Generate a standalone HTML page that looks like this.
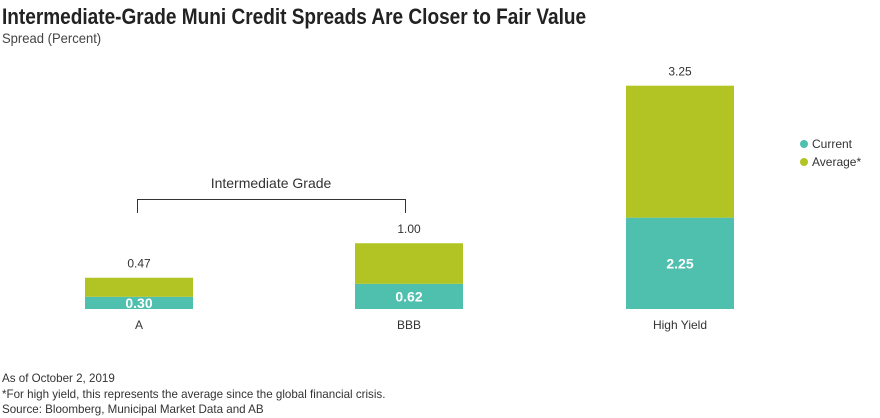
<!DOCTYPE html>
<html><head><meta charset="utf-8"><style>
body{margin:0;background:#fff;font-family:"Liberation Sans",sans-serif;}
#wrap{position:relative;width:880px;height:418px;overflow:hidden;}
.t{position:absolute;white-space:nowrap;color:#333;}
</style></head><body>
<div id="wrap">
<div class="t" style="left:2px;top:4px;font-weight:bold;font-size:22px;color:#222;transform:scaleX(0.865);transform-origin:0 0;">Intermediate-Grade Muni Credit Spreads Are Closer to Fair Value</div>
<div class="t" style="left:2px;top:30px;font-size:14px;color:#444;transform:scaleX(0.93);transform-origin:0 0;">Spread (Percent)</div>
<svg id="svg" width="880" height="418" style="position:absolute;left:0;top:0"></svg>
<div class="t" style="left:2px;top:372px;font-size:11.6px;">As of October 2, 2019</div>
<div class="t" style="left:2px;top:388px;font-size:11.6px;">*For high yield, this represents the average since the global financial crisis.</div>
<div class="t" style="left:2px;top:403px;font-size:11.6px;">Source: Bloomberg, Municipal Market Data and AB</div>
</div>
<script>
const categories=["A","BBB","High Yield"];
const currentVals=[0.30,0.62,2.25];
const averageVals=[0.47,1.00,3.25];
const svg=document.getElementById('svg');
const NS='http://www.w3.org/2000/svg';
const base=309, pxPer=40.6;
const y=v=>base-v*pxPer;
const xLeft=[85,355,626], bw=108;
function mk(tag,attrs){const e=document.createElementNS(NS,tag);for(const k in attrs)e.setAttribute(k,attrs[k]);svg.appendChild(e);return e;}
categories.forEach((c,i)=>{
  const x=xLeft[i];
  const cur=mk('rect',{x:x,y:y(currentVals[i]),width:bw,height:currentVals[i]*pxPer,fill:'#4fbfae'});
  
  
  const tot=currentVals[i]+averageVals[i];
  const av=mk('rect',{x:x,y:y(tot),width:bw,height:averageVals[i]*pxPer,fill:'#b2c424'});
  
  
  const vl=mk('text',{x:x+bw/2,y:y(currentVals[i]/2)+5,'text-anchor':'middle','font-size':'14','font-weight':'bold',fill:'#fff','font-family':'Liberation Sans'});
  vl.textContent=currentVals[i].toFixed(2);
  
  
  const al=mk('text',{x:x+bw/2,y:y(tot)-10,'text-anchor':'middle','font-size':'12',fill:'#333','font-family':'Liberation Sans'});
  al.textContent=averageVals[i].toFixed(2);
  
  
  const cl=mk('text',{x:x+bw/2,y:329,'text-anchor':'middle','font-size':'12',fill:'#333','font-family':'Liberation Sans'});
  cl.textContent=c;
  
  
});
const br=mk('path',{d:'M137.5 213 V199.5 H405.5 V213',fill:'none',stroke:'#333','stroke-width':'1'});


const bt=mk('text',{x:271,y:188,'text-anchor':'middle','font-size':'14',fill:'#333','font-family':'Liberation Sans'});
bt.textContent='Intermediate Grade';


[['Current','#4fbfae',144],['Average*','#b2c424',162]].forEach(([n,col,yy])=>{
  const d=mk('circle',{cx:804,cy:yy,r:4,fill:col});
  
  
  const t=mk('text',{x:812,y:yy+4,'font-size':'12',fill:'#333','font-family':'Liberation Sans'});
  t.textContent=n;
  
  
});
</script>
</body></html>
